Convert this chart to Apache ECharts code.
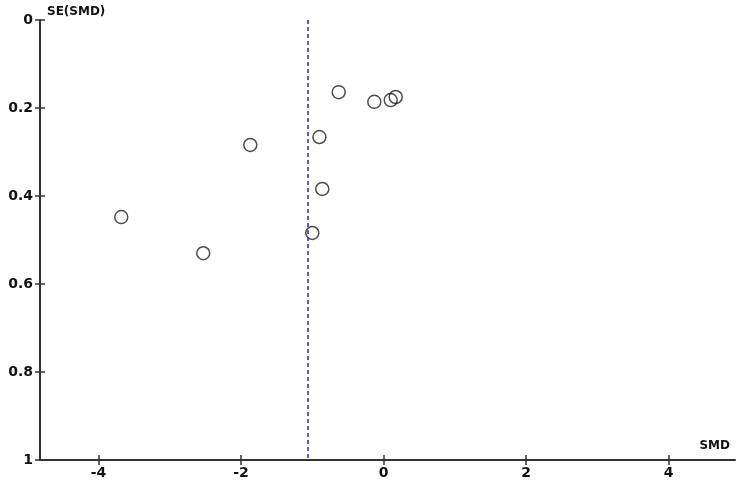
<!DOCTYPE html>
<html>
<head>
<meta charset="utf-8">
<script src="https://cdn.jsdelivr.net/npm/echarts@6/dist/echarts.min.js"></script>
<style>
  html, body { margin: 0; padding: 0; background: #fff; }
  #chart { width: 750px; height: 500px; }
</style>
</head>
<body>
<div id="chart"></div>
<script>
// study effects (SMD) and their standard errors
const smd = [-0.63, -0.13, 0.10, 0.17, -0.90, -0.86, -1.00, -1.87, -3.68, -2.53];
const seSmd = [0.164, 0.186, 0.182, 0.175, 0.266, 0.384, 0.484, 0.284, 0.448, 0.530];
const pooled = -1.07;
const xTicks = [-4, -2, 0, 2, 4];

const font = "DejaVu Sans";
const axisColor = "#333";
const xMin = -4.82;
const xMax = 4.93;

const labelStyle = {
  fontFamily: font,
  fontWeight: "bold",
  fontSize: 14,
  color: "#111",
};

const chart = echarts.init(document.getElementById("chart"));

chart.setOption({
  animation: false,
  backgroundColor: "#fff",
  grid: {
    left: 40,
    right: 15,
    top: 20,
    bottom: 40,
  },
  xAxis: [
    {
      type: "value",
      position: "bottom",
      min: xMin,
      max: xMax,
      name: "SMD",
      nameLocation: "end",
      nameGap: 0,
      nameTextStyle: {
        fontFamily: font,
        fontWeight: "bold",
        fontSize: 12,
        color: "#111",
        align: "right",
        verticalAlign: "bottom",
        padding: [0, 5, 8, 0],
      },
      axisLine: { onZero: false, lineStyle: { color: axisColor, width: 2 } },
      axisTick: { customValues: xTicks, length: 5, lineStyle: { color: axisColor, width: 1.5 } },
      axisLabel: Object.assign({ customValues: xTicks, margin: 6 }, labelStyle),
      splitLine: { show: false },
    },
    {
      // inner half of the ticks, so they cross the axis line
      type: "value",
      position: "bottom",
      min: xMin,
      max: xMax,
      axisLine: { show: false, onZero: false },
      axisTick: { customValues: xTicks, inside: true, length: 5, lineStyle: { color: axisColor, width: 1.5 } },
      axisLabel: { show: false },
      splitLine: { show: false },
    },
  ],
  yAxis: [
    {
      type: "value",
      position: "left",
      inverse: true,
      min: 0,
      max: 1,
      interval: 0.2,
      name: "SE(SMD)",
      nameLocation: "start",
      nameGap: 2,
      nameTextStyle: {
        fontFamily: font,
        fontWeight: "bold",
        fontSize: 12,
        color: "#111",
        align: "left",
        padding: [0, 0, 0, 7],
      },
      axisLine: { show: true, onZero: false, lineStyle: { color: axisColor, width: 2 } },
      axisTick: { show: true, length: 5, lineStyle: { color: axisColor, width: 1.5 } },
      axisLabel: Object.assign({ margin: 7 }, labelStyle),
      splitLine: { show: false },
    },
    {
      type: "value",
      position: "left",
      inverse: true,
      min: 0,
      max: 1,
      interval: 0.2,
      axisLine: { show: false, onZero: false },
      axisTick: { show: true, inside: true, length: 5, lineStyle: { color: axisColor, width: 1.5 } },
      axisLabel: { show: false },
      splitLine: { show: false },
    },
  ],
  series: [
    {
      type: "scatter",
      data: smd.map((v, i) => [v, seSmd[i]]),
      symbol: "circle",
      symbolSize: 13,
      itemStyle: {
        color: "rgba(255,255,255,0)",
        borderColor: "#222",
        borderWidth: 1.5,
      },
      markLine: {
        silent: true,
        symbol: "none",
        label: { show: false },
        lineStyle: { color: "#3434c0", type: [4, 3], width: 1.6 },
        data: [{ xAxis: pooled }],
      },
    },
  ],
});
</script>
</body>
</html>
